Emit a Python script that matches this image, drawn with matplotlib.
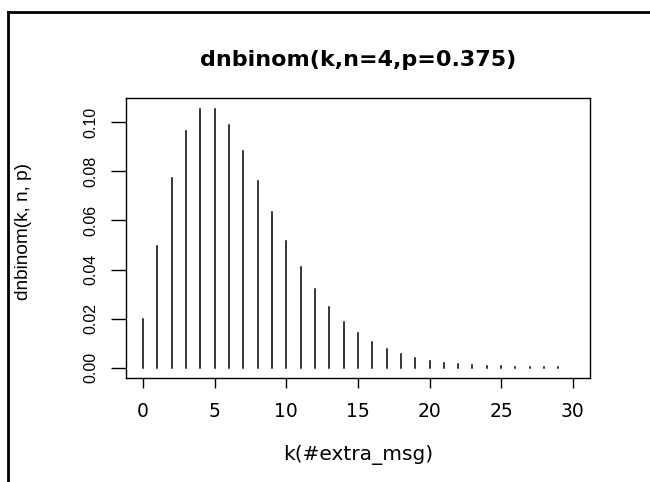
"""dnbinom(k, n=4, p=0.375) drawn as R-style vertical lines (type='h')."""

import matplotlib
matplotlib.use("Agg")
import matplotlib.pyplot as plt
from matplotlib import font_manager
from matplotlib.lines import Line2D

# values
k_values = list(range(0, 31))
density = [
    0.01978, 0.04944, 0.07725, 0.09656, 0.10561, 0.10561, 0.09901, 0.08840,
    0.07597, 0.06331, 0.05144, 0.04092, 0.03197, 0.02459, 0.01866, 0.01400,
    0.01039, 0.00764, 0.00557, 0.00403, 0.00290, 0.00207, 0.00147, 0.00104,
    0.00073, 0.00051, 0.00036, 0.00025, 0.00017, 0.00012, 0.00008,
]
x_ticks = [0, 5, 10, 15, 20, 25, 30]
y_ticks = [0.00, 0.02, 0.04, 0.06, 0.08, 0.10]
y_tick_labels = ["0.00", "0.02", "0.04", "0.06", "0.08", "0.10"]

title = "dnbinom(k,n=4,p=0.375)"
x_label = "k(#extra_msg)"
y_label = "dnbinom(k, n, p)"

W, H = 650, 482
names = {f.name for f in font_manager.fontManager.ttflist}
narrow = "Liberation Sans Narrow" if "Liberation Sans Narrow" in names else "Liberation Sans"

fig = plt.figure(figsize=(W / 100, H / 100), dpi=100)
fig.patch.set_facecolor("white")


def fx(px):
    return px / W


def fy(py):
    return 1 - py / H


# plot region in pixels: left, top, right, bottom
ax = fig.add_axes([fx(125.7), fy(378.1), fx(590) - fx(125.7), fy(98.2) - fy(378.1)])
ax.vlines(k_values, 0, density, colors="black", linewidth=1.1, capstyle="projecting")

# R style 4% axis extension
xpad = 0.04 * (max(k_values) - min(k_values))
ypad = 0.04 * max(density)
ax.set_xlim(min(k_values) - xpad, max(k_values) + xpad)
ax.set_ylim(-ypad, max(density) + ypad)

ax.set_xticks(x_ticks)
ax.set_xticklabels([str(t) for t in x_ticks], fontsize=13.5, family="DejaVu Sans")
ax.set_yticks(y_ticks)
ax.set_yticklabels(y_tick_labels, rotation=90, va="center", fontsize=11.5, family=narrow)
ax.tick_params(axis="x", direction="out", length=7.2, width=1, pad=10)
ax.tick_params(axis="y", direction="out", length=10.8, width=1, pad=9)
for s in ax.spines.values():
    s.set_linewidth(1)
    s.set_color("black")

fig.text(fx(358), fy(60), title, ha="center", va="center", fontsize=16,
         fontweight="bold", family="DejaVu Sans")
fig.text(fx(358), fy(455), x_label, ha="center", va="center", fontsize=14.5,
         family="DejaVu Sans")
fig.text(fx(24), fy(232), y_label, ha="center", va="center", rotation=90,
         fontsize=13.7, family=narrow)

# outer frame (top and left edges of the screenshot border)
fig.add_artist(Line2D([fx(8), 1], [fy(12), fy(12)], transform=fig.transFigure,
                      color="black", linewidth=2))
fig.add_artist(Line2D([fx(8), fx(8)], [fy(12), 0], transform=fig.transFigure,
                      color="black", linewidth=2))

fig.savefig("out.png", dpi=100)
